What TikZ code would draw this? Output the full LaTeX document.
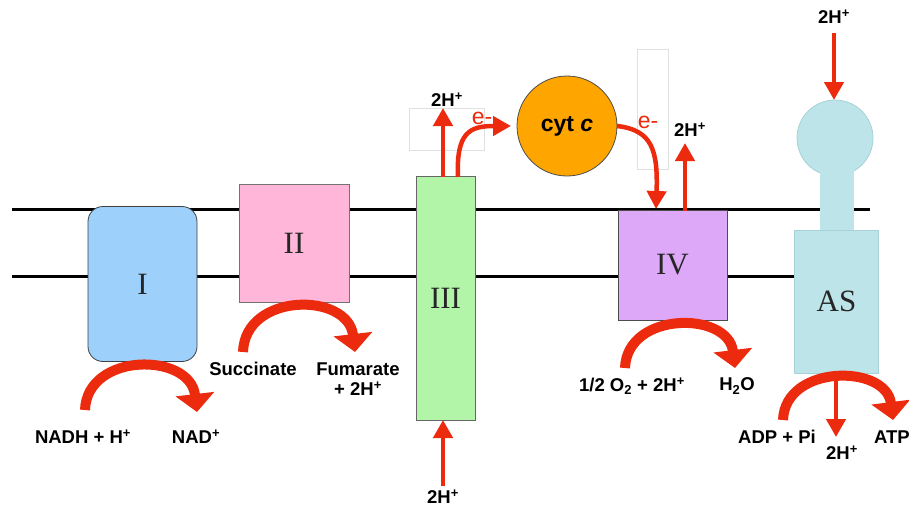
\documentclass[tikz,border=0pt]{standalone}
\usepackage{fontspec}
\setmainfont{Liberation Serif}
\newfontfamily\lab{Liberation Sans}
\usetikzlibrary{arrows.meta}
\definecolor{arr}{HTML}{EC2A0E}
\definecolor{cI}{HTML}{9DD1FB}
\definecolor{cII}{HTML}{FFB6D8}
\definecolor{cIII}{HTML}{B2F5A8}
\definecolor{cIV}{HTML}{DDA8F8}
\definecolor{cAS}{HTML}{BCE4E9}
\definecolor{cASd}{HTML}{A6D2D8}
\definecolor{cyt}{HTML}{FFA500}
\begin{document}
\begin{tikzpicture}[x=1pt,y=-1pt,
  lbl/.style={font=\lab\bfseries\fontsize{18.5}{20}\selectfont, inner sep=0pt, align=center},
  elbl/.style={font=\lab\fontsize{23}{25}\selectfont, text=arr, inner sep=0pt},
  roman/.style={font=\fontsize{31}{33}\selectfont, text=black!85},
  box/.style={draw=black!65, line width=0.8pt, inner sep=0pt},
  curv/.style={draw=arr, line width=10pt, -{Triangle[width=38pt,length=18pt]}},
  sarr/.style={draw=arr, line width=4.5pt, -{Triangle[width=19pt,length=18pt]}},
  ghost/.style={draw=black!12, line width=0.8pt, inner sep=0pt}
]
\useasboundingbox (0,0) rectangle (909,509);
% membrane
\coordinate (mt1) at (12,209); \coordinate (mt2) at (870,209);
\coordinate (mb1) at (12,276); \coordinate (mb2) at (796,276);
\draw[line width=3pt] (mt1) -- (mt2);
\draw[line width=3pt] (mb1) -- (mb2);
% ghost text boxes
\node[ghost, minimum width=75pt, minimum height=42pt] (g1) at (446.5,129) {};
\node[ghost, minimum width=31pt, minimum height=120pt] (g2) at (652.5,109) {};
% complexes
\node[box, draw=black!75, fill=cI, rounded corners=15pt, minimum width=109pt, minimum height=155pt, roman] (c1) at (142.5,284) {I};
\node[box, draw=black!55, fill=cII, minimum width=110pt, minimum height=118pt, roman] (c2) at (294,243) {II};
\node[box, draw=black!60, fill=cIII, minimum width=59pt, minimum height=244pt, roman] (c3) at (445.5,298) {III};
\node[box, draw=black!70, fill=cIV, minimum width=109pt, minimum height=110pt, roman] (c4) at (672.5,265) {IV};
% ATP synthase
\node[circle, draw=cASd, fill=cAS, line width=0.8pt, minimum size=76pt, inner sep=0pt] (ball) at (835,138) {};
\node[fill=cAS, minimum width=34pt, minimum height=84pt, inner sep=0pt] (stalk) at (837,190) {};
\node[box, draw=cASd, fill=cAS, minimum width=84pt, minimum height=143pt, roman] (as) at (836.5,301.5) {AS};
% cyt c
\node[circle, draw=black!70, fill=cyt, line width=0.8pt, minimum size=100pt, inner sep=0pt, font=\lab\bfseries\fontsize{23}{25}\selectfont] (cyt) at (567,126) {cyt \textit{c}};
% curved reaction arrows
\coordinate (r1a) at (85,410); \coordinate (r1b) at (197,412);
\draw[curv] (r1a) .. controls (87,352) and (190,352) .. (r1b);
\coordinate (r2a) at (243,352); \coordinate (r2b) at (355,352);
\draw[curv] (r2a) .. controls (245,292) and (348,292) .. (r2b);
\coordinate (r4a) at (625,368); \coordinate (r4b) at (735,368);
\draw[curv] (r4a) .. controls (627,311) and (728,311) .. (r4b);
\coordinate (r5a) at (783,420); \coordinate (r5b) at (893,420);
\draw[curv] (r5a) .. controls (785,364) and (886,364) .. (r5b);
% proton arrows
\coordinate (p3a) at (443,177); \coordinate (p3b) at (443,108);
\draw[sarr] (p3a) -- (p3b);
\coordinate (p3c) at (443,486); \coordinate (p3d) at (443,420);
\draw[sarr] (p3c) -- (p3d);
\coordinate (p4a) at (685,211); \coordinate (p4b) at (685,143);
\draw[sarr] (p4a) -- (p4b);
\coordinate (pa1) at (834,33); \coordinate (pa2) at (834,100);
\draw[sarr] (pa1) -- (pa2);
\coordinate (pa3) at (836,372); \coordinate (pa4) at (836,437);
\draw[sarr] (pa3) -- (pa4);
% electron arrows
\coordinate (e1a) at (458,177); \coordinate (e1b) at (511,126);
\draw[sarr] (e1a) .. controls (456,132) and (470,126) .. (e1b);
\coordinate (e2a) at (617,126); \coordinate (e2b) at (656,209);
\draw[sarr] (e2a) .. controls (652,130) and (658,150) .. (e2b);
% labels
\node[lbl] (lnadh) at (83,437) {NADH + H\textsuperscript{+}};
\node[lbl] (lnad) at (196,437) {NAD\textsuperscript{+}};
\node[lbl] (lsucc) at (253,369) {Succinate};
\node[lbl] (lfum) at (358,379) {Fumarate\\+ 2H\textsuperscript{+}};
\node[lbl] (lo2) at (632,386) {1/2 O\textsubscript{2} + 2H\textsuperscript{+}};
\node[lbl] (lh2o) at (737,386) {H\textsubscript{2}O};
\node[lbl] (ladp) at (777,437) {ADP + Pi};
\node[lbl] (latp) at (892,437) {ATP};
\node[lbl] (lh5) at (842,453) {2H\textsuperscript{+}};
\node[lbl] (lh6) at (834,17) {2H\textsuperscript{+}};
\node[lbl] (lh3) at (447,100) {2H\textsuperscript{+}};
\node[lbl] (lh4) at (690,130) {2H\textsuperscript{+}};
\node[lbl] (lh7) at (443,497) {2H\textsuperscript{+}};
\node[elbl] (le1) at (482,118) {e-};
\node[elbl] (le2) at (648,122) {e-};
\end{tikzpicture}
\end{document}
